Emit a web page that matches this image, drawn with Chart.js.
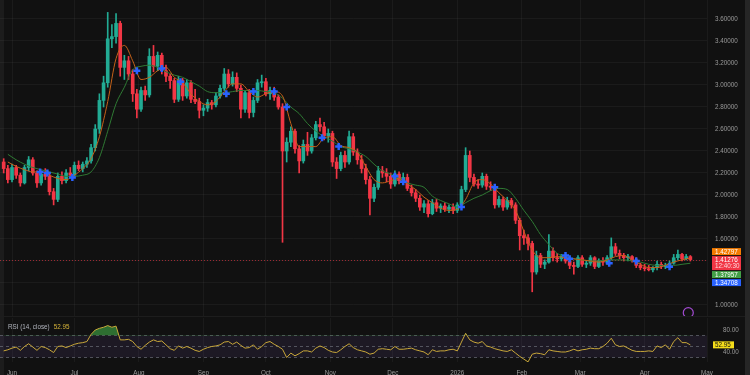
<!DOCTYPE html>
<html>
<head>
<meta charset="utf-8">
<script src="https://cdn.jsdelivr.net/npm/chart.js@4.4.1/dist/chart.umd.min.js"></script>
<style>
  html, body { margin: 0; padding: 0; background: #111111; overflow: hidden; }
  #wrap { position: relative; width: 750px; height: 375px; overflow: hidden; }
  .edge { position: absolute; top: 0; height: 375px; }
  #main { position: absolute; left: 0; top: 0; }
  #rsi { position: absolute; left: 0; top: 316px; }
  #sep { position: absolute; left: 0; top: 316px; width: 745px; height: 1px; background: #1d1d1d; }
</style>
</head>
<body>
<div id="wrap">
  <div class="edge" style="left:0;width:4px;background:#1c1c1c"></div>
  <div class="edge" style="left:745px;width:5px;background:#262626"></div>
  <div id="sep"></div>
  <canvas id="main" width="750" height="316"></canvas>
  <canvas id="rsi" width="750" height="62"></canvas>
</div>
<script>
// 2-day candles, day 0 = 1 Jun 2025
const opens = [2.30,2.24,2.14,2.25,2.18,2.11,2.25,2.32,2.20,2.11,2.19,
  2.17,2.03,1.96,2.17,2.13,2.20,2.18,2.27,2.24,2.28,
  2.31,2.43,2.60,2.86,3.02,3.42,3.44,3.56,3.16,3.22,3.10,2.92,2.78,
  2.95,2.91,3.26,3.17,3.27,3.13,3.08,3.04,2.87,3.04,
  2.90,3.02,2.87,2.85,2.77,2.79,2.84,2.82,2.90,2.97,
  3.10,3.01,3.07,2.97,2.78,2.93,2.75,2.86,3.02,3.03,
  2.92,2.95,2.89,2.80,
  2.40,2.48,2.58,2.42,2.31,2.46,2.40,2.52,2.64,2.62,
  2.54,2.56,2.30,2.24,2.36,2.30,2.53,2.39,2.32,2.24,
  2.14,1.97,2.07,2.22,2.20,2.17,2.10,2.19,2.13,2.16,
  2.06,2.02,1.97,1.89,1.92,1.83,1.93,1.88,1.90,1.87,
  1.89,1.86,1.91,2.05,2.36,2.16,2.10,2.09,2.17,2.08,
  2.07,1.91,1.96,1.89,1.95,1.91,1.77,1.63,1.61,1.56,
  1.30,1.45,1.37,1.39,1.49,1.43,1.42,1.44,1.40,1.36,
  1.35,1.43,1.37,1.38,1.43,1.35,1.40,1.39,1.43,1.53,
  1.47,1.45,1.43,1.44,1.41,1.36,1.34,1.33,1.32,1.34,
  1.37,1.35,1.36,1.38,1.43,1.46,1.42,1.44];
const highs = [2.33,2.27,2.28,2.27,2.20,2.27,2.35,2.34,2.22,2.22,2.24,
  2.19,2.06,2.20,2.21,2.23,2.25,2.30,2.31,2.30,2.34,
  2.46,2.64,2.92,3.08,3.66,3.55,3.65,3.58,3.27,3.26,3.14,2.96,2.98,
  2.99,3.33,3.36,3.30,3.29,3.18,3.10,3.06,3.08,3.06,
  3.05,3.04,2.96,2.88,2.82,2.87,2.86,2.93,3.00,3.15,
  3.14,3.12,3.11,3.00,2.95,2.96,2.89,3.05,3.09,3.06,
  2.98,2.98,2.91,2.83,
  2.52,2.62,2.60,2.45,2.50,2.57,2.55,2.67,2.70,2.66,
  2.60,2.58,2.34,2.39,2.40,2.58,2.56,2.42,2.36,2.28,
  2.17,2.10,2.26,2.26,2.24,2.20,2.22,2.21,2.20,2.19,
  2.09,2.05,2.00,1.95,1.95,1.96,1.96,1.92,1.93,1.91,
  1.92,1.93,2.08,2.43,2.40,2.19,2.14,2.20,2.19,2.12,
  2.09,1.99,1.98,1.98,1.97,1.93,1.79,1.68,1.64,1.58,
  1.49,1.47,1.41,1.64,1.52,1.47,1.46,1.46,1.43,1.39,
  1.45,1.45,1.40,1.45,1.44,1.42,1.43,1.45,1.61,1.56,
  1.50,1.47,1.46,1.45,1.43,1.38,1.37,1.36,1.35,1.40,
  1.39,1.38,1.40,1.46,1.50,1.47,1.46,1.45];
const lows = [2.20,2.11,2.12,2.15,2.08,2.10,2.22,2.18,2.07,2.09,2.14,
  2.00,1.91,1.94,2.10,2.11,2.16,2.17,2.22,2.21,2.25,
  2.29,2.40,2.56,2.80,2.98,3.34,3.38,3.08,3.05,3.05,2.85,2.70,2.76,
  2.86,2.89,3.12,3.13,3.10,3.03,2.97,2.84,2.85,2.86,
  2.88,2.84,2.83,2.70,2.72,2.76,2.78,2.80,2.88,2.95,
  2.98,2.99,2.94,2.70,2.75,2.70,2.71,2.84,2.98,2.90,
  2.87,2.86,2.78,1.57,
  2.30,2.44,2.38,2.20,2.29,2.36,2.38,2.50,2.58,2.50,
  2.48,2.26,2.15,2.22,2.25,2.28,2.36,2.28,2.20,2.10,
  1.82,1.94,2.05,2.16,2.12,2.06,2.08,2.10,2.10,2.04,
  1.99,1.94,1.86,1.84,1.80,1.82,1.85,1.84,1.85,1.84,
  1.83,1.84,1.89,2.03,2.12,2.08,2.06,2.07,2.05,2.04,
  1.88,1.89,1.86,1.87,1.88,1.74,1.50,1.55,1.50,1.12,
  1.28,1.34,1.33,1.38,1.40,1.39,1.40,1.38,1.33,1.28,
  1.34,1.35,1.34,1.36,1.33,1.34,1.36,1.37,1.41,1.45,
  1.42,1.40,1.40,1.39,1.34,1.32,1.31,1.31,1.30,1.32,
  1.33,1.33,1.34,1.37,1.41,1.40,1.41,1.40];
const closes = [2.24,2.14,2.25,2.18,2.11,2.25,2.32,2.20,2.11,2.19,2.17,
  2.03,1.96,2.17,2.13,2.20,2.18,2.27,2.24,2.28,2.31,
  2.43,2.60,2.86,3.02,3.42,3.44,3.56,3.16,3.22,3.10,2.92,2.78,2.95,
  2.91,3.26,3.17,3.27,3.13,3.08,3.04,2.87,3.04,2.90,
  3.02,2.87,2.85,2.77,2.79,2.84,2.82,2.90,2.97,3.10,
  3.01,3.07,2.97,2.78,2.93,2.75,2.86,3.02,3.03,2.92,
  2.95,2.89,2.80,2.40,
  2.48,2.58,2.42,2.31,2.46,2.40,2.52,2.64,2.62,2.54,
  2.56,2.30,2.24,2.36,2.30,2.53,2.39,2.32,2.24,2.14,
  1.97,2.07,2.22,2.20,2.17,2.10,2.19,2.13,2.16,2.06,
  2.02,1.97,1.89,1.92,1.83,1.93,1.88,1.90,1.87,1.89,
  1.86,1.91,2.05,2.36,2.16,2.10,2.09,2.17,2.08,2.07,
  1.91,1.96,1.89,1.95,1.91,1.77,1.63,1.61,1.56,1.30,
  1.45,1.37,1.39,1.49,1.43,1.42,1.44,1.40,1.36,1.35,
  1.43,1.37,1.38,1.43,1.35,1.40,1.39,1.43,1.53,1.47,
  1.45,1.43,1.44,1.41,1.36,1.34,1.33,1.32,1.34,1.37,
  1.35,1.36,1.38,1.43,1.46,1.42,1.44,1.41276];
const rsi = [42,44,47,49,43,50,55,49,43,50,48,
  44,39,50,51,48,51,54,56,57,59,
  72,80,83,85,88,85,87,62,62,63,59,50,45,
  52,58,62,59,60,53,46,43,51,47,
  50,47,43,41,45,48,50,51,53,58,
  59,54,58,52,47,48,53,45,50,57,
  59,54,50,45,
  30,38,33,37,42,42,40,47,51,48,
  43,40,39,44,50,55,48,44,42,40,
  36,38,45,46,45,44,50,45,45,46,
  47,44,42,40,35,44,41,42,42,44,
  45,42,58,74,62,58,56,59,51,49,
  46,44,42,41,44,38,32,27,22,36,
  38,37,35,44,42,41,40,40,42,45,
  42,44,45,47,46,46,50,56,65,53,
  50,51,47,43,41,41,41,42,41,51,
  48,53,45,59,66,57,57,52.95];

// moving averages, one value every 4 days from day -2
const maFast = [2.30,2.26,2.23,2.21,2.21,2.18,2.15,2.14,2.18,2.24,
  2.33,2.53,2.85,3.24,3.36,3.22,3.05,3.07,3.13,3.16,
  3.07,3.02,2.92,2.85,2.82,2.85,2.94,3.01,3.01,2.94,
  2.89,2.92,2.94,2.90,2.65,2.44,2.44,2.44,2.52,2.53,
  2.45,2.43,2.39,2.26,2.14,2.11,2.13,2.15,2.10,2.05,
  1.98,1.93,1.88,1.86,1.87,1.96,2.11,2.14,2.10,2.02,
  1.95,1.86,1.67,1.50,1.43,1.43,1.44,1.43,1.42,1.41,
  1.40,1.39,1.41,1.44,1.45,1.41,1.37,1.34,1.34,1.36,
  1.39,1.41,1.42797];
const maSlow = [2.37,2.32,2.28,2.25,2.23,2.21,2.19,2.17,2.17,2.18,
  2.21,2.34,2.58,2.83,2.98,3.14,3.17,3.18,3.16,3.12,
  3.09,3.07,3.03,2.99,2.94,2.93,2.93,2.94,2.95,2.95,
  2.95,2.94,2.93,2.88,2.80,2.74,2.65,2.58,2.53,2.49,
  2.44,2.42,2.39,2.35,2.28,2.22,2.19,2.15,2.11,2.09,
  2.07,1.99,1.95,1.92,1.89,1.93,1.97,2.00,2.04,2.06,
  2.05,1.97,1.86,1.76,1.64,1.55,1.47,1.44,1.42,1.41,
  1.40,1.40,1.41,1.41,1.41,1.40,1.39,1.37,1.36,1.36,
  1.36,1.37,1.37957];

const crossDays = [13.5,17,29,60,72,81,103,116,126,132,149,157,184,188,216,232,266,268,287,300,316];
const crossPrices = [2.21,2.20,2.16,3.13,3.15,3.03,2.92,2.94,2.94,2.80,2.52,2.44,2.17,2.12,1.89,2.07,1.45,1.42,1.38,1.40,1.34708];

const monthDays = [0,30,61,92,122,153,183,214,245,273,304,334];
const monthLabels = ['Jun','Jul','Aug','Sep','Oct','Nov','Dec','2026','Feb','Mar','Apr','May'];
const priceTicks = [1.0,1.2,1.4,1.6,1.8,2.0,2.2,2.4,2.6,2.8,3.0,3.2,3.4,3.6,3.8];
const rsiTicks = [40, 80];
const countdown = '12:40:30';
const eventDay = 325;

const days = closes.map((c, i) => -4 + 2 * i);
const maDays = maFast.map((v, k) => -2 + 4 * k);
const last = closes.length - 1;

const UP = '#22ab94', DOWN = '#f23645';
const GRID = 'rgba(255,255,255,0.045)';
const TXT = '#9a9a9a';
const FONT = '"Liberation Sans", Arial, sans-serif';
const candleColors = closes.map((c, i) => c >= opens[i] ? UP : DOWN);

Chart.defaults.font.family = FONT;
Chart.defaults.font.size = 6.3;
Chart.defaults.color = TXT;

const xMin = -5.77, xMax = 334;

function fixWidth(s) { s.width = 43; s.paddingTop = 0; s.paddingBottom = 0; }

const priceLine = {
  id: 'priceLine',
  beforeDatasetsDraw(chart) {
    const { ctx, chartArea: a, scales: { y } } = chart;
    const py = Math.round(y.getPixelForValue(closes[last])) + 0.5;
    ctx.save();
    ctx.strokeStyle = 'rgba(242,54,69,0.6)';
    ctx.setLineDash([1, 2]);
    ctx.beginPath();
    ctx.moveTo(a.left, py);
    ctx.lineTo(a.right, py);
    ctx.stroke();
    ctx.restore();
  }
};

const badges = {
  id: 'badges',
  afterDraw(chart) {
    const { ctx, scales: { y } } = chart;
    const list = [
      { v: maFast[maFast.length - 1], bg: '#f57c00' },
      { v: closes[last], bg: DOWN, sub: countdown },
      { v: maSlow[maSlow.length - 1], bg: '#43a047' },
      { v: crossPrices[crossPrices.length - 1], bg: '#2962ff' },
    ];
    const anchor = 1;
    list.forEach(b => { b.h = b.sub ? 14 : 7; b.top = y.getPixelForValue(b.v) - 3.5; });
    for (let i = anchor - 1; i >= 0; i--) {
      list[i].top = Math.min(list[i].top, list[i + 1].top - 1 - list[i].h);
    }
    for (let i = anchor + 1; i < list.length; i++) {
      list[i].top = Math.max(list[i].top, list[i - 1].top + list[i - 1].h + 1);
    }
    ctx.save();
    ctx.font = '6.3px ' + FONT;
    ctx.textBaseline = 'middle';
    list.forEach(b => {
      ctx.fillStyle = b.bg;
      ctx.fillRect(712, b.top, 29, b.h);
      ctx.fillStyle = '#ffffff';
      ctx.fillText(b.v.toFixed(5), 715, b.top + 3.7);
      if (b.sub) {
        ctx.fillStyle = 'rgba(255,255,255,0.8)';
        ctx.fillText(b.sub, 715, b.top + 10.5);
      }
    });
    ctx.restore();
  }
};

new Chart(document.getElementById('main'), {
  type: 'bar',
  data: {
    datasets: [
      {
        type: 'bar',
        data: days.map((d, i) => ({ x: d, y: [lows[i], highs[i]] })),
        backgroundColor: candleColors,
        barThickness: 1,
        grouped: false,
        order: 6
      },
      {
        type: 'bar',
        data: days.map((d, i) => ({ x: d, y: [opens[i], closes[i]] })),
        backgroundColor: candleColors,
        barThickness: 3,
        minBarLength: 1,
        grouped: false,
        order: 5
      },
      {
        type: 'line',
        data: maDays.map((d, k) => ({ x: d, y: maSlow[k] })),
        borderColor: '#2f7a34',
        borderWidth: 1,
        pointRadius: 0,
        cubicInterpolationMode: 'monotone',
        order: 4
      },
      {
        type: 'line',
        data: maDays.map((d, k) => ({ x: d, y: maFast[k] })),
        borderColor: '#c5621a',
        borderWidth: 1,
        pointRadius: 0,
        cubicInterpolationMode: 'monotone',
        order: 3
      },
      {
        type: 'scatter',
        data: crossDays.map((d, k) => ({ x: d, y: crossPrices[k] })),
        pointStyle: 'cross',
        pointRadius: 3.5,
        borderWidth: 2.5,
        borderColor: '#2962ff',
        backgroundColor: '#2962ff',
        order: 2
      },
      {
        type: 'scatter',
        data: [{ x: eventDay, y: 0.93 }],
        pointStyle: 'circle',
        pointRadius: 5,
        borderWidth: 1.2,
        borderColor: '#a24bd1',
        backgroundColor: 'rgba(0,0,0,0)',
        order: 1
      }
    ]
  },
  options: {
    responsive: false,
    animation: false,
    events: [],
    layout: { padding: 0, autoPadding: false },
    plugins: { legend: { display: false }, tooltip: { enabled: false } },
    scales: {
      x: {
        type: 'linear', min: xMin, max: xMax, offset: false,
        grid: { color: GRID, drawTicks: false, offset: false },
        border: { display: false },
        ticks: { display: false },
        afterBuildTicks: s => { s.ticks = monthDays.map(v => ({ value: v })); },
        afterFit: s => { s.height = 0; s.paddingLeft = 0; s.paddingRight = 0; }
      },
      y: {
        type: 'linear', position: 'right', min: 0.9, max: 3.7727,
        grid: { color: GRID, drawTicks: false },
        border: { display: false },
        ticks: { color: TXT, padding: 8, callback: v => v.toFixed(5) },
        afterBuildTicks: s => { s.ticks = priceTicks.map(v => ({ value: v })); },
        afterFit: fixWidth
      }
    }
  },
  plugins: [priceLine, badges]
});

const rsiBand = {
  id: 'rsiBand',
  beforeDatasetsDraw(chart) {
    const { ctx, chartArea: a, scales: { y } } = chart;
    const y70 = y.getPixelForValue(70), y30 = y.getPixelForValue(30);
    ctx.save();
    ctx.fillStyle = 'rgba(126,87,194,0.11)';
    ctx.fillRect(a.left, y70, a.right - a.left, y30 - y70);
    ctx.strokeStyle = 'rgba(120,123,134,0.6)';
    ctx.lineWidth = 1;
    ctx.setLineDash([3, 3]);
    [70, 50, 30].forEach(v => {
      const yy = Math.round(y.getPixelForValue(v)) + 0.5;
      ctx.beginPath();
      ctx.moveTo(a.left, yy);
      ctx.lineTo(a.right, yy);
      ctx.stroke();
    });
    ctx.restore();
  }
};

const rsiLabels = {
  id: 'rsiLabels',
  afterDraw(chart) {
    const { ctx, scales: { y } } = chart;
    const v = rsi[last];
    ctx.save();
    ctx.font = '6.3px ' + FONT;
    ctx.textBaseline = 'middle';
    ctx.fillStyle = '#b2b5be';
    ctx.fillText('RSI (14, close)', 8, 11);
    const w = ctx.measureText('RSI (14, close)').width;
    ctx.fillStyle = '#d7b53a';
    ctx.fillText(v.toFixed(2), 8 + w + 4, 11);
    const py = y.getPixelForValue(v);
    ctx.fillStyle = '#f5dd1a';
    ctx.fillRect(713, py - 3.5, 21, 7);
    ctx.fillStyle = '#111111';
    ctx.fillText(v.toFixed(2), 715, py + 0.2);
    ctx.restore();
  }
};

new Chart(document.getElementById('rsi'), {
  type: 'line',
  data: {
    datasets: [{
      data: days.map((d, i) => ({ x: d, y: rsi[i] })),
      borderColor: '#c9a83a',
      borderWidth: 1,
      pointRadius: 0,
      fill: { target: { value: 70 }, above: 'rgba(56,142,60,0.75)', below: 'rgba(0,0,0,0)' }
    }]
  },
  options: {
    responsive: false,
    animation: false,
    events: [],
    layout: { padding: { top: 2 }, autoPadding: false },
    plugins: { legend: { display: false }, tooltip: { enabled: false } },
    scales: {
      x: {
        type: 'linear', min: xMin, max: xMax,
        grid: { color: GRID, drawTicks: false },
        border: { display: false },
        ticks: {
          color: TXT, padding: 7, autoSkip: false, maxRotation: 0,
          callback: v => monthLabels[monthDays.indexOf(v)] ?? ''
        },
        afterBuildTicks: s => { s.ticks = monthDays.map(v => ({ value: v })); },
        afterFit: s => { s.height = 16; s.paddingLeft = 0; s.paddingRight = 0; }
      },
      y: {
        type: 'linear', position: 'right', min: 21.8, max: 101.8,
        grid: { display: false },
        border: { display: false },
        ticks: { color: TXT, padding: 8, callback: v => v.toFixed(2) },
        afterBuildTicks: s => { s.ticks = rsiTicks.map(v => ({ value: v })); },
        afterFit: fixWidth
      }
    }
  },
  plugins: [rsiBand, rsiLabels]
});
</script>
</body>
</html>
